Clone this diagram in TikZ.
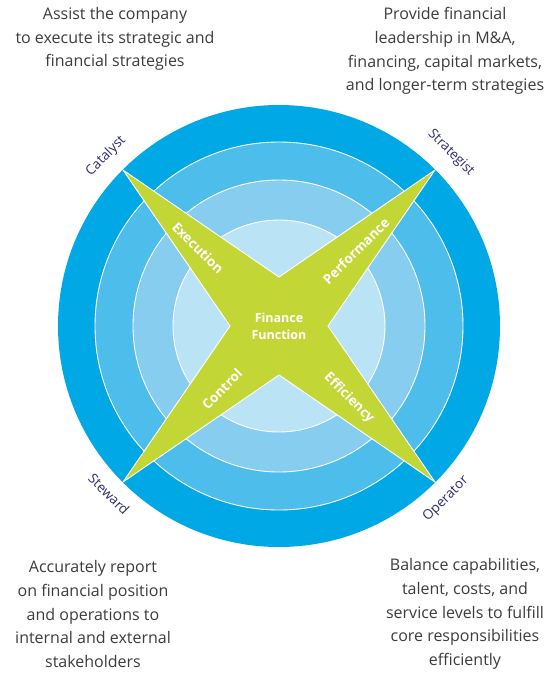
\documentclass[tikz,border=0pt]{standalone}
\usepackage{fontspec}
\setmainfont{Open Sans}
\usetikzlibrary{positioning,calc}
\definecolor{ffOuter}{HTML}{00A9E6}
\definecolor{ffRingA}{HTML}{4DBDEC}
\definecolor{ffRingB}{HTML}{86CDF0}
\definecolor{ffInner}{HTML}{BAE4F6}
\definecolor{ffGreen}{HTML}{C2D735}
\definecolor{ffRole}{HTML}{2E2B6E}
\definecolor{ffText}{HTML}{3C3C3C}
\tikzset{
  ringline/.style={draw=white, line width=0.9pt},
  starshape/.style={fill=ffGreen, draw=white, line width=0.9pt, line join=miter},
  armlabel/.style={text=white, font=\fontsize{13.5}{16}\selectfont\bfseries, inner sep=0pt},
  corelabel/.style={text=white, font=\fontsize{12.5}{17}\selectfont\bfseries, align=center, inner sep=0pt},
  rolelabel/.style={text=ffRole, font=\fontsize{13.5}{16}\selectfont, inner sep=0pt},
  desc/.style={text=ffText, font=\fontsize{16}{23.6}\selectfont, align=center, inner sep=0pt}
}
\begin{document}
\begin{tikzpicture}[x=1pt, y=-1pt]
  \useasboundingbox (0,0) rectangle (545,673);
  \coordinate (c) at (279,326);
  % rings
  \fill[ffOuter] (c) circle (221pt);
  \draw[ringline, fill=ffRingA] (c) circle (184pt);
  \draw[ringline, fill=ffRingB] (c) circle (146pt);
  \draw[ringline, fill=ffInner] (c) circle (106pt);
  % star
  \coordinate (nw) at (123,170);
  \coordinate (ne) at (435,170);
  \coordinate (se) at (435,482);
  \coordinate (sw) at (123,482);
  \draw[starshape] (nw) -- (279,277) -- (ne) -- (328,326) -- (se)
    -- (279,375) -- (sw) -- (230,326) -- cycle;
  \node[corelabel] (core) at (c) {Finance\\Function};
  \node[armlabel, rotate=-45] (exec) at (198,248) {Execution};
  \node[armlabel, rotate=45] (perf) at (356,251) {Performance};
  \node[armlabel, rotate=45] (ctrl) at (222,389) {Control};
  \node[armlabel, rotate=-45] (effi) at (349,398) {Efficiency};
  % roles
  \node[rolelabel, rotate=45] (catalyst) at (106,156) {Catalyst};
  \node[rolelabel, rotate=-45] (strategist) at (451,153) {Strategist};
  \node[rolelabel, rotate=-45] (steward) at (109,494) {Steward};
  \node[rolelabel, rotate=45] (operator) at (446,499) {Operator};
  % descriptions
  \node[desc] (catalystText) at (115,39) {Assist the company\\to execute its strategic and\\financial strategies};
  \node[desc] (strategistText) at (445,51) {Provide financial\\leadership in M\&A,\\financing, capital markets,\\and longer-term strategies};
  \node[desc] (stewardText) at (93,614) {Accurately report\\on financial position\\and operations to\\internal and external\\stakeholders};
  \node[desc] (operatorText) at (465,614) {Balance capabilities,\\talent, costs, and\\service levels to fulfill\\core responsibilities\\efficiently};
\end{tikzpicture}
\end{document}
